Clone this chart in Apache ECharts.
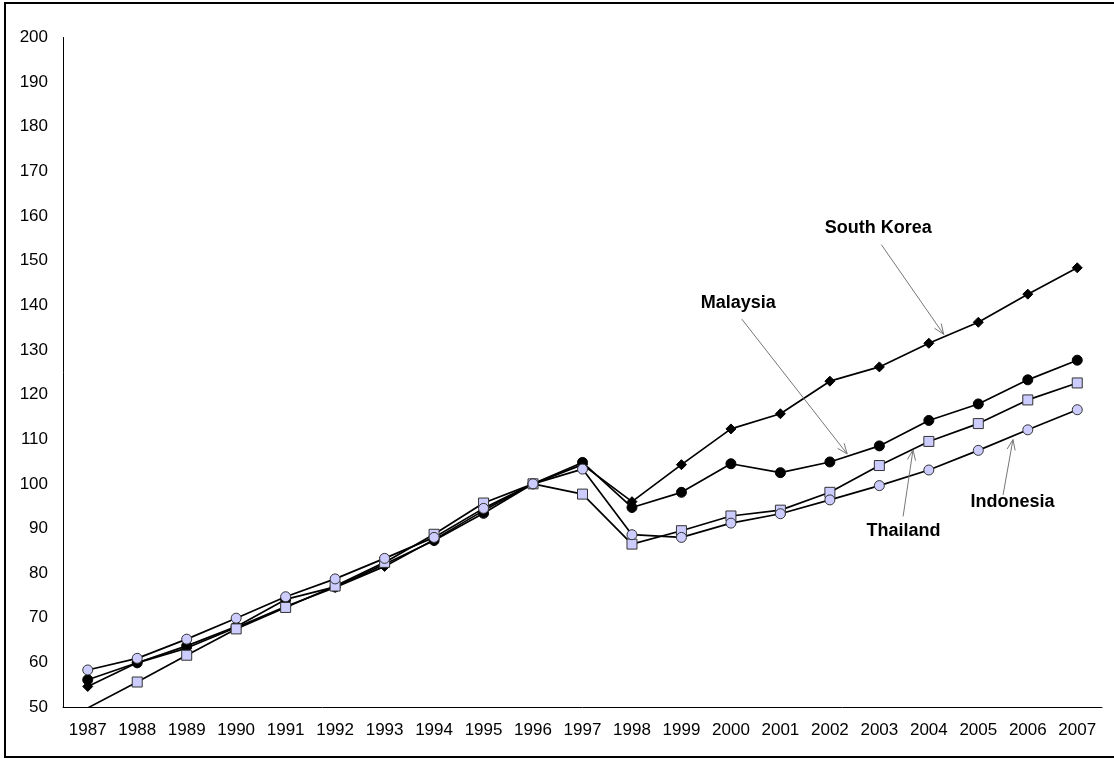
<!DOCTYPE html>
<html>
<head>
<meta charset="utf-8">
<script src="https://cdn.jsdelivr.net/npm/echarts@6/dist/echarts.min.js"></script>
<style>
html,body{margin:0;padding:0;background:#fff;}
#chart{width:1114px;height:759px;}
</style>
</head>
<body>
<div id="chart"></div>
<script>
const years = ['1987','1988','1989','1990','1991','1992','1993','1994','1995','1996','1997','1998','1999','2000','2001','2002','2003','2004','2005','2006','2007'];
const southKorea = [54.6,59.9,63.2,67.8,72.5,76.8,81.5,87.5,94.0,100,104.3,96.0,104.3,112.3,115.7,123.0,126.2,131.5,136.2,142.5,148.4];
const malaysia   = [56.1,59.9,63.7,68.0,74.1,76.9,82.0,87.3,93.4,100,104.8,94.7,98.1,104.5,102.5,104.9,108.5,114.2,117.9,123.3,127.7];
const thailand   = [49.8,55.6,61.6,67.5,72.3,77.1,82.4,88.7,95.7,100,97.7,86.5,89.5,92.8,94.1,98.1,104.1,109.5,113.5,118.8,122.6];
const indonesia  = [58.3,60.9,65.2,69.9,74.7,78.7,83.3,88.0,94.5,100,103.3,88.6,88.0,91.2,93.3,96.4,99.6,103.1,107.5,112.1,116.6];
const yTicks = [50,60,70,80,90,100,110,120,130,140,150,160,170,180,190,200];

// annotation anchors in data space: [category index (fractional), value]
const annotations = [
  {text:'South Korea', label:[15.98,157.2], from:[16.04,153.6], to:[17.30,133.5]},
  {text:'Malaysia',    label:[13.15,140.4], from:[13.22,136.9], to:[15.35,106.7]},
  {text:'Thailand',    label:[16.49,89.5],  from:[16.48,92.7],  to:[16.68,107.6]},
  {text:'Indonesia',   label:[18.69,96.0],  from:[18.50,97.5],  to:[18.70,109.9]}
];

const chart = echarts.init(document.getElementById('chart'));
const FONT = 'Liberation Sans, Arial, sans-serif';
function mkSeries(name, data, symbol, size, fill, border){
  return {
    name, type:'line', data, symbol, symbolSize:size, showAllSymbol:true,
    clip:true, animation:false,
    lineStyle:{color:'#000', width:1.7},
    itemStyle:{color:fill, borderColor:border, borderWidth:1},
    z: 2
  };
}
chart.setOption({
  animation:false,
  backgroundColor:'#fff',
  grid:{left:63, right:12, top:37.5, bottom:52, containLabel:false},
  xAxis:{
    type:'category', data:years, boundaryGap:true,
    axisLine:{lineStyle:{color:'#000', width:1}},
    axisTick:{show:false},
    axisLabel:{color:'#000', fontSize:17, fontFamily:FONT, margin:15, interval:0}
  },
  yAxis:{
    type:'value', min:50, max:200, interval:10,
    axisLine:{show:true, lineStyle:{color:'#000', width:1}},
    axisTick:{show:false},
    splitLine:{show:false},
    axisLabel:{color:'#000', fontSize:17, fontFamily:FONT, margin:15}
  },
  series:[
    mkSeries('South Korea', southKorea, 'diamond', 10, '#000', '#000'),
    mkSeries('Malaysia', malaysia, 'circle', 10, '#000', '#000'),
    mkSeries('Thailand', thailand, 'rect', 10, '#ccccff', '#333'),
    mkSeries('Indonesia', indonesia, 'circle', 10, '#ccccff', '#333')
  ]
});

// convert [fractional category index, value] to pixels by interpolating between category centres
function px(p){
  const i = Math.min(Math.floor(p[0]), years.length - 2);
  const a = chart.convertToPixel({gridIndex:0}, [i, p[1]]);
  const b = chart.convertToPixel({gridIndex:0}, [i + 1, p[1]]);
  const f = p[0] - i;
  return [a[0] + (b[0] - a[0]) * f, a[1]];
}
const graphics = [{
  type:'rect', shape:{x:5, y:3, width:1120, height:754},
  style:{fill:null, stroke:'#000', lineWidth:2}, silent:true, z:0
}];
annotations.forEach(a=>{
  const l = px(a.label), f = px(a.from), t = px(a.to);
  graphics.push({
    type:'text', x:l[0], y:l[1],
    style:{text:a.text, font:'bold 18px ' + FONT, fill:'#000', align:'center', verticalAlign:'middle'},
    z:10
  });
  graphics.push({
    type:'line', shape:{x1:f[0], y1:f[1], x2:t[0], y2:t[1]},
    style:{stroke:'#777', lineWidth:1}, z:10
  });
  const ang = Math.atan2(t[1]-f[1], t[0]-f[0]);
  const L = 11, w = 0.38;
  const p1 = [t[0] - L*Math.cos(ang - w), t[1] - L*Math.sin(ang - w)];
  const p2 = [t[0] - L*Math.cos(ang + w), t[1] - L*Math.sin(ang + w)];
  graphics.push({
    type:'polyline', shape:{points:[p1, t, p2]},
    style:{stroke:'#777', lineWidth:1, fill:null}, z:10
  });
});
chart.setOption({graphic:graphics});
</script>
</body>
</html>
